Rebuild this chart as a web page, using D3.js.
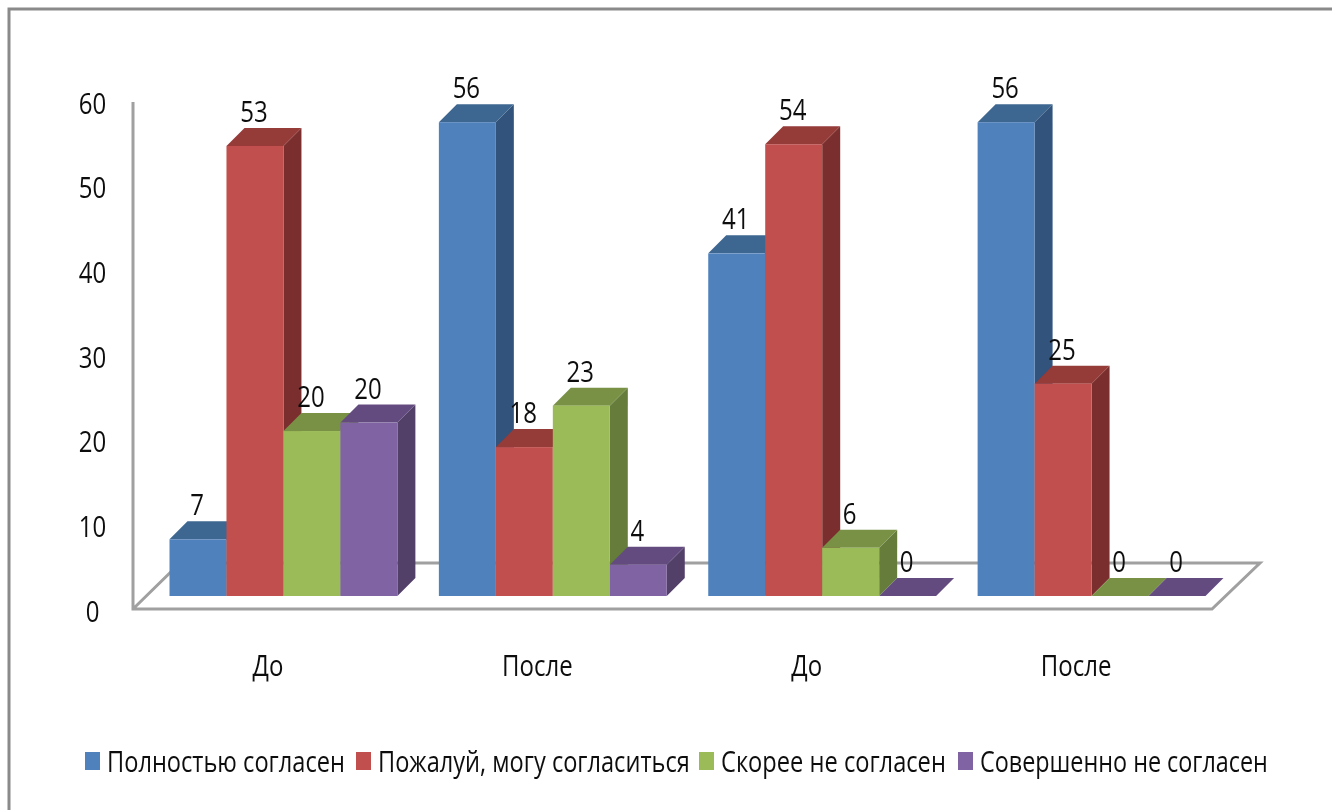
<!DOCTYPE html>
<html lang="ru">
<head>
<meta charset="UTF-8">
<title>Chart</title>
<script src="https://d3js.org/d3.v7.min.js"></script>
<style>
    html, body { margin: 0; padding: 0; background: #fff; }
    svg { display: block; }
    text { font-family: "Open Sans", "Liberation Sans", sans-serif; fill: #111; }
</style>
</head>
<body>
<svg width="1332" height="810"></svg>
<script>
// Data
const categories = ["До", "После", "До", "После"];
const seriesNames = ["Полностью согласен", "Пожалуй, могу согласиться", "Скорее не согласен", "Совершенно не согласен"];
const full = [6.7, 56, 40.5, 56];
const partly = [53.2, 17.6, 53.4, 25.1];
const ratherNot = [19.5, 22.5, 5.7, 0];
const notAtAll = [20.5, 3.7, 0, 0];
// printed labels differ a little from the bar heights
const fullLabels = [7, 56, 41, 56];
const partlyLabels = [53, 18, 54, 25];
const ratherNotLabels = [20, 23, 6, 0];
const notAtAllLabels = [20, 4, 0, 0];
const yTicks = [0, 10, 20, 30, 40, 50, 60];

const seriesValues = [full, partly, ratherNot, notAtAll];
const seriesLabels = [fullLabels, partlyLabels, ratherNotLabels, notAtAllLabels];
const front = ["#4f81bd", "#c0504d", "#9bbb59", "#8064a2"];
const top3d = ["#3d6690", "#953a38", "#789145", "#634c80"];
const side = ["#30527c", "#7a2f2d", "#657c3b", "#523f69"];

const depthX = 18, depthY = 18;
const baseY = 596;
const fontSize = 30;
const squeeze = 0.8; // the original text is squashed sideways

const svg = d3.select("svg");

// the source picture is an upscaled screenshot, so everything is a bit soft
svg.append("filter").attr("id", "soft")
    .attr("filterUnits", "userSpaceOnUse")
    .attr("x", 0).attr("y", 0).attr("width", 1332).attr("height", 810)
    .append("feGaussianBlur").attr("stdDeviation", 0.7);
const root = svg.append("g").attr("filter", "url(#soft)");

// page frame
root.append("path")
    .attr("d", "M9,810V9H1332")
    .attr("fill", "none")
    .attr("stroke", "#8a8a8a")
    .attr("stroke-width", 3);

const x0 = d3.scaleBand().domain(d3.range(categories.length)).range([169.5, 1205.5]).paddingInner(0.154);
const x1 = d3.scaleBand().domain(d3.range(seriesNames.length)).range([0, x0.bandwidth()]);
const y = d3.scaleLinear().domain([0, 60]).range([baseY, baseY - 60 * 8.46]);
// the axis labels sit at the front edge of the floor, so they get their own scale
const yAxisScale = d3.scaleLinear().domain([0, 60]).range([610.5, 102.5]);

// floor and axis line
root.append("path")
    .attr("d", "M133,102V609H1212L1260,563H180L133,609")
    .attr("fill", "none")
    .attr("stroke", "#a0a0a0")
    .attr("stroke-width", 3);

// bars, drawn left to right so later bars cover earlier sides
const bars = [];
categories.forEach((c, i) => seriesNames.forEach((s, j) => bars.push({ i, j, v: seriesValues[j][i], label: seriesLabels[j][i] })));

const barG = root.append("g").selectAll("g").data(bars).join("g");
barG.each(function(d) {
    const g = d3.select(this);
    const xl = x0(d.i) + x1(d.j), xr = xl + x1.bandwidth(), yt = y(d.v);
    g.append("path").attr("fill", side[d.j])
        .attr("d", `M${xr},${yt}L${xr + depthX},${yt - depthY}V${baseY - depthY}L${xr},${baseY}Z`);
    g.append("path").attr("fill", top3d[d.j])
        .attr("d", `M${xl},${yt}L${xl + depthX},${yt - depthY}H${xr + depthX}L${xr},${yt}Z`);
    g.append("rect").attr("x", xl).attr("y", yt).attr("width", x1.bandwidth()).attr("height", baseY - yt).attr("fill", front[d.j]);
});

// value labels
root.append("g").selectAll("text").data(bars).join("text")
    .attr("transform", d => `translate(${x0(d.i) + x1(d.j) + x1.bandwidth() / 2 - 1},${y(d.v) - 24}) scale(${squeeze},1)`)
    .attr("text-anchor", "middle")
    .attr("font-size", fontSize)
    .text(d => d.label);

// y axis labels
const axis = root.append("g").attr("transform", "translate(133,0)")
    .call(d3.axisLeft(yAxisScale).tickValues(yTicks).tickSize(0));
axis.select(".domain").remove();
axis.attr("font-family", null).attr("font-size", null);
axis.selectAll("text")
    .attr("x", 0).attr("dy", "0.36em")
    .attr("text-anchor", "middle")
    .attr("font-size", fontSize)
    .attr("transform", `translate(-40.5,0) scale(${squeeze},1)`);

// category labels
root.append("g").selectAll("text").data(categories).join("text")
    .attr("transform", (d, i) => `translate(${x0(i) + x0.bandwidth() / 2 - 15.5},676) scale(${squeeze},1)`)
    .attr("text-anchor", "middle")
    .attr("font-size", fontSize)
    .text(d => d);

// legend
const legendX = [85, 356, 699, 958];
const legendTextWidth = [238, 312, 225, 288];
const legend = root.append("g").selectAll("g").data(seriesNames).join("g")
    .attr("transform", (d, i) => `translate(${legendX[i]},752)`);
legend.append("rect").attr("width", 15).attr("height", 18).attr("fill", (d, i) => front[i]);
legend.append("text")
    .attr("font-size", fontSize)
    .text(d => d)
    .attr("transform", function(d, i) {
        // fit each entry to the width it has in the picture
        return `translate(22,20) scale(${legendTextWidth[i] / this.getComputedTextLength()},1)`;
    });
</script>
</body>
</html>
